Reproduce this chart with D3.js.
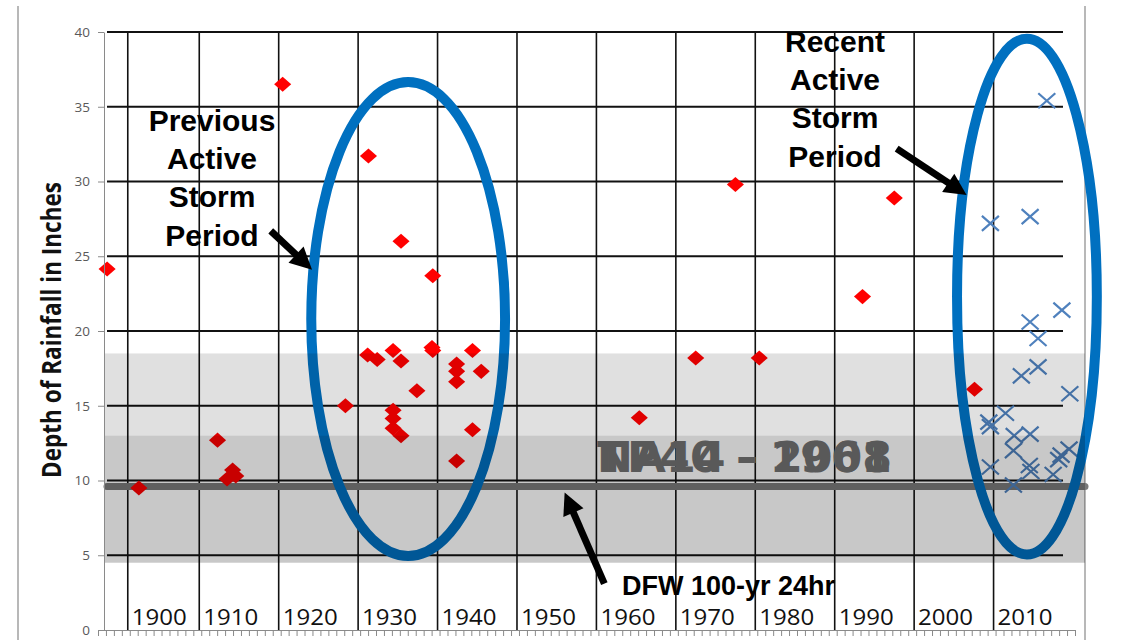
<!DOCTYPE html>
<html>
<head>
<meta charset="utf-8">
<script src="https://cdn.jsdelivr.net/npm/d3@7"></script>
<style>
  body { margin: 0; background: #fff; }
  svg { display: block; }
</style>
</head>
<body>
<svg></svg>
<script>

// storms before the recent period (red diamonds)
let redYears = [1898.4, 1902.4, 1912.3, 1913.5, 1914.2, 1914.6, 1920.5, 1928.4, 1931.2, 1931.3,
                1932.4, 1934.4, 1934.4, 1934.4, 1934.4, 1935.4, 1935.4, 1935.4, 1937.4, 1939.3,
                1939.4, 1939.4, 1942.4, 1942.4, 1942.4, 1942.4, 1944.4, 1944.4, 1945.5, 1965.4,
                1972.5, 1977.5, 1980.5, 1993.5, 1997.5, 2007.6]
let redValues = [24.15, 9.5, 12.7, 10.1, 10.7, 10.3, 36.5, 15.0, 18.4, 31.7,
                 18.1, 18.7, 14.7, 14.15, 13.5, 18.0, 26.0, 13.0, 16.0, 18.9,
                 18.7, 23.7, 17.8, 17.3, 16.6, 11.3, 18.7, 13.4, 17.3, 14.2,
                 18.2, 29.8, 18.2, 22.3, 28.9, 16.1]

// recent storms (blue crosses)
let blueYears = [2009.6, 2014.6, 2016.7, 2018.6, 2014.6, 2015.6, 2015.6, 2013.5, 2019.6, 2011.5,
                 2009.4, 2009.6, 2012.6, 2014.6, 2012.5, 2019.5, 2018.5, 2018.2, 2009.6, 2014.5,
                 2014.7, 2017.5, 2012.5]
let blueValues = [27.2, 27.65, 35.4, 21.4, 20.6, 19.5, 17.6, 17.0, 15.8, 14.5,
                  13.9, 13.6, 13.0, 13.1, 12.0, 12.1, 11.7, 11.4, 10.9, 11.0,
                  10.6, 10.4, 9.7]

let yTicks = [0, 5, 10, 15, 20, 25, 30, 35, 40]
let gridValues = [5, 10, 15, 20, 25, 30, 35, 40]
let gridYears = [1901, 1910, 1920, 1930, 1940, 1950, 1960, 1970, 1980, 1990, 2000, 2010]
let decadeLabels = ['1900', '1910', '1920', '1930', '1940', '1950', '1960', '1970', '1980', '1990', '2000', '2010']

let dfwValue = 9.6              // DFW 100-yr 24hr depth
let lightBand = [13, 18.5]
let darkBand = [4.5, 13]
let atlasLabels = ['TP40 - 1961', 'NA14 - 2008']
let previousLines = ['Previous', 'Active', 'Storm', 'Period']
let recentLines = ['Recent', 'Active', 'Storm', 'Period']

// ellipses: [centre year, centre inches, half width in years, half height in inches]
let ellipses = [[1936.3, 20.8, 12.2, 15.85], [2014.2, 22.3, 8.8, 17.25]]
// arrows: [tail year, tail inches, tip year, tip inches]
let arrows = [[1919.0, 26.7, 1924.2, 24.1], [1997.8, 32.2, 2006.6, 29.1], [1961.0, 3.1, 1956.0, 9.2]]

let width = 1130
let height = 640
let plotLeft = 104
let plotRight = 1085

let svg = d3.select('svg').attr('width', width).attr('height', height)

let xScale = d3.scaleLinear().domain([1897, 2020]).range([96, 1073])
let yScale = d3.scaleLinear().domain([0, 40]).range([630, 32])

let font = "'Liberation Sans', Arial, sans-serif"

//outer frame lines
svg.selectAll('.frame')
  .data([18, plotRight])
  .enter()
  .append('line')
  .attr('x1', d => d).attr('x2', d => d)
  .attr('y1', 6).attr('y2', height)
  .attr('stroke', '#a0a0a0')
  .attr('stroke-width', 1.5)

//grid
svg.selectAll('.hgrid')
  .data(gridValues)
  .enter()
  .append('line')
  .attr('x1', 107).attr('x2', 1063)
  .attr('y1', d => yScale(d)).attr('y2', d => yScale(d))
  .attr('stroke', '#111')
  .attr('stroke-width', 1.8)

svg.selectAll('.vgrid')
  .data(gridYears)
  .enter()
  .append('line')
  .attr('x1', d => xScale(d)).attr('x2', d => xScale(d))
  .attr('y1', yScale(40)).attr('y2', yScale(0))
  .attr('stroke', '#111')
  .attr('stroke-width', 1.6)

//DFW line
svg.append('line')
  .attr('x1', plotLeft + 3).attr('x2', plotRight)
  .attr('y1', yScale(dfwValue)).attr('y2', yScale(dfwValue))
  .attr('stroke', '#7a7a7a')
  .attr('stroke-width', 7)
  .attr('stroke-linecap', 'round')

//points
svg.selectAll('.dot')
  .data(redYears)
  .enter()
  .append('path')
  .attr('d', d3.symbol(d3.symbolSquare, 125))
  .attr('transform', (d, i) => `translate(${xScale(d)},${yScale(redValues[i])}) scale(1.08,0.95) rotate(45)`)
  .attr('fill', '#ff0000')

svg.selectAll('.cross')
  .data(blueYears)
  .enter()
  .append('path')
  .attr('d', 'M-8.5,-7.5L8.5,7.5M-8.5,7.5L8.5,-7.5')
  .attr('transform', (d, i) => `translate(${xScale(d)},${yScale(blueValues[i])})`)
  .attr('stroke', '#4f81bd')
  .attr('stroke-width', 2.2)
  .attr('fill', 'none')

//ellipses round the active periods
svg.selectAll('.ring')
  .data(ellipses)
  .enter()
  .append('ellipse')
  .attr('cx', d => xScale(d[0]))
  .attr('cy', d => yScale(d[1]))
  .attr('rx', d => xScale(d[0] + d[2]) - xScale(d[0]))
  .attr('ry', d => yScale(d[1] - d[3]) - yScale(d[1]))
  .attr('fill', 'none')
  .attr('stroke', '#0070c0')
  .attr('stroke-width', 10)

//shaded bands (semi transparent, on top of the marks)
svg.append('rect')
  .attr('x', plotLeft).attr('width', plotRight - plotLeft)
  .attr('y', yScale(lightBand[1]))
  .attr('height', yScale(lightBand[0]) - yScale(lightBand[1]))
  .attr('fill', '#000').attr('fill-opacity', 0.12)

svg.append('rect')
  .attr('x', plotLeft).attr('width', plotRight - plotLeft)
  .attr('y', yScale(darkBand[1]))
  .attr('height', yScale(darkBand[0]) - yScale(darkBand[1]))
  .attr('fill', '#000').attr('fill-opacity', 0.215)

// the two atlas labels sit on top of each other, same box
svg.selectAll('.atlas')
  .data(atlasLabels)
  .enter()
  .append('text')
  .attr('x', 597)
  .attr('y', 472)
  .attr('textLength', 295)
  .attr('lengthAdjust', 'spacingAndGlyphs')
  .style('font-family', "'DejaVu Sans', Verdana, sans-serif")
  .style('font-weight', 'bold')
  .style('font-size', '42px')
  .attr('fill', '#595959')
  .text(d => d)

//axes
let xAxis = d3.axisBottom(xScale)
  .tickValues(d3.range(1897, 2021))
  .tickFormat('')
  .tickSizeInner(6)
  .tickSizeOuter(0)

let gx = svg.append('g')
  .attr('transform', `translate(2,${yScale(0)})`)
  .call(xAxis)
gx.selectAll('path, line').attr('stroke', '#8a8a8a')

let yAxis = d3.axisLeft(yScale)
  .tickValues(yTicks)
  .tickSizeInner(6)
  .tickSizeOuter(0)
  .tickPadding(8)

let gy = svg.append('g')
  .attr('transform', `translate(${plotLeft},0)`)
  .call(yAxis)
gy.selectAll('path, line').attr('stroke', '#8a8a8a')
gy.selectAll('text')
  .attr('fill', '#595959')
  .style('font-family', "'Open Sans', sans-serif")
  .style('font-size', '13.5px')

svg.selectAll('.decade')
  .data(decadeLabels)
  .enter()
  .append('text')
  .attr('x', (d, i) => xScale(gridYears[i]) + 4)
  .attr('y', 625)
  .attr('textLength', 55)
  .attr('lengthAdjust', 'spacingAndGlyphs')
  .style('font-family', "'Open Sans', sans-serif")
  .style('font-size', '22px')
  .attr('fill', '#111')
  .text(d => d)

svg.append('text')
  .attr('transform', 'translate(61,330) rotate(-90)')
  .attr('text-anchor', 'middle')
  .attr('textLength', 296)
  .attr('lengthAdjust', 'spacingAndGlyphs')
  .style('font-family', "'Open Sans', sans-serif")
  .style('font-weight', 'bold')
  .style('font-size', '26px')
  .attr('fill', '#111')
  .text('Depth of Rainfall in Inches')

//arrows
let drawArrow = (a) => {
  let x1 = xScale(a[0]), y1 = yScale(a[1])
  let x2 = xScale(a[2]), y2 = yScale(a[3])
  let ang = Math.atan2(y2 - y1, x2 - x1)
  let headLen = 22, headHalf = 11
  let bx = x2 - headLen * Math.cos(ang), by = y2 - headLen * Math.sin(ang)
  svg.append('line')
    .attr('x1', x1).attr('y1', y1)
    .attr('x2', bx + 2 * Math.cos(ang)).attr('y2', by + 2 * Math.sin(ang))
    .attr('stroke', '#000')
    .attr('stroke-width', 7)
  let px = -Math.sin(ang) * headHalf, py = Math.cos(ang) * headHalf
  svg.append('path')
    .attr('d', `M${x2},${y2}L${bx + px},${by + py}L${bx - px},${by - py}Z`)
    .attr('fill', '#000')
}
arrows.forEach(drawArrow)

//annotation texts
let block = (lines, cx, top) => {
  svg.selectAll(null)
    .data(lines)
    .enter()
    .append('text')
    .attr('x', cx)
    .attr('y', (d, i) => top + i * 38.2)
    .attr('text-anchor', 'middle')
    .style('font-family', font)
    .style('font-weight', 'bold')
    .style('font-size', '30px')
    .attr('fill', '#000')
    .text(d => d)
}
block(previousLines, 212, 131)
block(recentLines, 835, 52)

svg.append('text')
  .attr('x', 622)
  .attr('y', 595)
  .style('font-family', font)
  .style('font-weight', 'bold')
  .style('font-size', '27px')
  .attr('fill', '#000')
  .text('DFW 100-yr 24hr')

</script>
</body>
</html>
